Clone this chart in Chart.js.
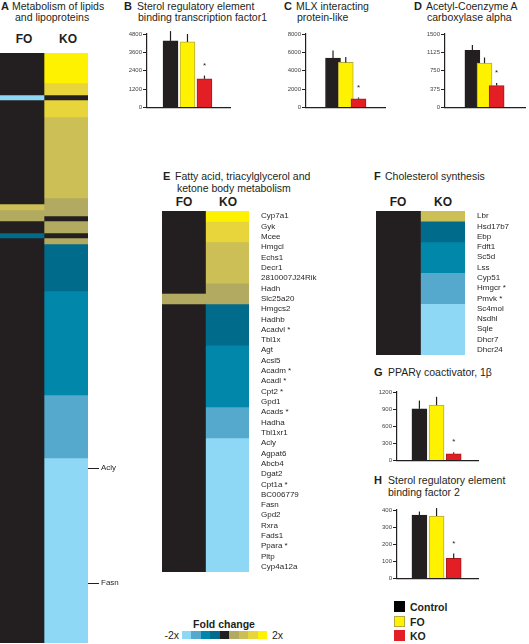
<!DOCTYPE html>
<html>
<head>
<meta charset="utf-8">
<script src="https://cdn.jsdelivr.net/npm/chart.js@4.4.0/dist/chart.umd.min.js"></script>
<style>
  body { margin: 0; width: 529px; height: 644px; position: relative; overflow: hidden; background: #fff;
         font-family: "Liberation Sans", Arial, sans-serif; color: #231f20; }
  canvas { position: absolute; }
  .t { position: absolute; font-size: 10.5px; line-height: 12px; white-space: nowrap; }
  .L { position: absolute; font-size: 11px; line-height: 12px; font-weight: bold; }
  .h { position: absolute; width: 40px; text-align: center; font-size: 12px; line-height: 14px; font-weight: bold; }
  .sq { position: absolute; left: 394px; width: 11px; height: 11px; }
  .lg { position: absolute; left: 410px; font-size: 10.5px; line-height: 12px; font-weight: bold; }
  #cbar { position: absolute; left: 182px; top: 631px; width: 85px; height: 8px; display: flex; }
  #cbar div { flex: 1; }
</style>
</head>
<body>
<!-- panel titles -->
<div class="L" style="left:1px;top:0">A</div>
<div class="t" style="left:12px;top:0">Metabolism of lipids</div>
<div class="t" style="left:15px;top:11px">and lipoproteins</div>
<div class="L" style="left:124px;top:0">B</div>
<div class="t" style="left:137px;top:0">Sterol regulatory element</div>
<div class="t" style="left:138px;top:11px">binding transcription factor1</div>
<div class="L" style="left:284px;top:0">C</div>
<div class="t" style="left:296px;top:0">MLX interacting</div>
<div class="t" style="left:297px;top:11px">protein-like</div>
<div class="L" style="left:414px;top:0">D</div>
<div class="t" style="left:426px;top:0">Acetyl-Coenzyme A</div>
<div class="t" style="left:427px;top:11px">carboxylase alpha</div>
<div class="L" style="left:163px;top:170px">E</div>
<div class="t" style="left:175px;top:170px">Fatty acid, triacylglycerol and</div>
<div class="t" style="left:177px;top:182px">ketone body metabolism</div>
<div class="L" style="left:374px;top:170px">F</div>
<div class="t" style="left:385px;top:170px">Cholesterol synthesis</div>
<div class="L" style="left:374px;top:366px">G</div>
<div class="t" style="left:388px;top:366px">PPARγ coactivator, 1β</div>
<div class="L" style="left:374px;top:474px">H</div>
<div class="t" style="left:388px;top:474px">Sterol regulatory element</div>
<div class="t" style="left:388px;top:486px">binding factor 2</div>

<div class="h" style="left:4px;top:32px">FO</div>
<div class="h" style="left:48px;top:32px">KO</div>
<div class="h" style="left:164px;top:195px">FO</div>
<div class="h" style="left:208px;top:195px">KO</div>
<div class="h" style="left:378px;top:195px">FO</div>
<div class="h" style="left:423px;top:195px">KO</div>

<canvas id="hmA" width="125" height="590" style="left:0;top:53px"></canvas>
<canvas id="hmE" width="175" height="361" style="left:162px;top:211px"></canvas>
<canvas id="hmF" width="153" height="144" style="left:376px;top:211px"></canvas>

<canvas id="barB" width="124" height="86" style="left:110px;top:26px"></canvas>
<canvas id="barC" width="116" height="86" style="left:273px;top:26px"></canvas>
<canvas id="barD" width="119" height="86" style="left:410px;top:26px"></canvas>
<canvas id="barG" width="118" height="81" style="left:364px;top:384px"></canvas>
<canvas id="barH" width="118" height="81" style="left:364px;top:502px"></canvas>

<!-- legends -->
<div class="sq" style="top:601px;background:#000"></div>
<div class="sq" style="top:616px;background:#fff200;box-sizing:border-box;border:1px solid #b5a93a"></div>
<div class="sq" style="top:630px;background:#e31e24"></div>
<div class="lg" style="top:601px">Control</div>
<div class="lg" style="top:616px">FO</div>
<div class="lg" style="top:630px">KO</div>

<div class="t" style="left:184px;top:618px;width:80px;text-align:center;font-weight:bold">Fold change</div>
<div class="t" style="left:158px;top:629px;width:21px;text-align:right">-2x</div>
<div id="cbar"></div>
<div class="t" style="left:272px;top:629px">2x</div>

<script>
// fold-change levels -4 (-2x) .. 0 .. +4 (2x)
const palette = ['#8ed8f6', '#54a9cd', '#0087a9', '#006b8b', '#231f20', '#b2aa61', '#cbbf56', '#e8d53b', '#fff200'];
const groups = ['Control', 'FO', 'KO'];

// A heatmap (row counts, top to bottom)
const aFoLevels = [0, -4, 0, 2, 1, 0, -1, 0];
const aFoRows = [42, 5, 104, 6, 11, 12, 5, 405];
const aKoLevels = [4, 3, 0, 3, 2, 1, 0, 1, 0, 1, -1, -2, -3, -4];
const aKoRows = [30, 12, 5, 17, 81, 18, 5, 12, 5, 6, 47, 104, 63, 185];
const aMarkRows = [415, 530];
const aMarkNames = ['Acly', 'Fasn'];

// E heatmap
const eGenes = ['Cyp7a1', 'Gyk', 'Mcee', 'Hmgcl', 'Echs1', 'Decr1', '2810007J24Rik', 'Hadh', 'Slc25a20',
  'Hmgcs2', 'Hadhb', 'Acadvl *', 'Tbl1x', 'Agt', 'Acsl5', 'Acadm *', 'Acadl *', 'Cpt2 *', 'Gpd1', 'Acads *',
  'Hadha', 'Tbl1xr1', 'Acly', 'Agpat6', 'Abcb4', 'Dgat2', 'Cpt1a *', 'BC006779', 'Fasn', 'Gpd2', 'Rxra',
  'Fads1', 'Ppara *', 'Pltp', 'Cyp4a12a'];
const eFoLevels = [0, 1, 0];
const eFoRows = [8, 1, 26];
const eKoLevels = [4, 3, 2, 1, -1, -2, -3, -4];
const eKoRows = [1, 2, 4, 2, 4, 6, 3, 13];

// F heatmap
const fGenes = ['Lbr', 'Hsd17b7', 'Ebp', 'Fdft1', 'Sc5d', 'Lss', 'Cyp51', 'Hmgcr *', 'Pmvk *', 'Sc4mol',
  'Nsdhl', 'Sqle', 'Dhcr7', 'Dhcr24'];
const fFoLevels = [0];
const fFoRows = [14];
const fKoLevels = [2, -1, -2, -3, -4];
const fKoRows = [1, 2, 3, 3, 5];

// bar panels: mean, upper error, significance
const bVals = [4350, 4280, 1870], bErr = [4990, 4800, 2080];
const cVals = [5380, 4900, 940], cErr = [6200, 5480, 1080];
const dVals = [1165, 905, 445], dErr = [1275, 1020, 500];
const gVals = [905, 970, 115], gErr = [1050, 1115, 145];
const hVals = [370, 365, 117], hErr = [391, 411, 146];
const sig = [false, false, true];
const bTicks = [0, 1200, 2400, 3600, 4800];
const cTicks = [0, 2000, 4000, 6000, 8000];
const dTicks = [0, 375, 750, 1125, 1500];
const gTicks = [0, 300, 600, 900, 1200];
const hTicks = [0, 100, 200, 300, 400];

const barColors = ['#231f20', '#fff200', '#e31e24'];
const barBorders = ['#231f20', '#b5a93a', '#a8181d'];

palette.forEach(c => {
  const d = document.createElement('div');
  d.style.background = c;
  document.getElementById('cbar').appendChild(d);
});

const errPlugin = {
  id: 'err',
  afterDatasetsDraw(chart) {
    const o = chart.options.plugins.err;
    const ys = chart.scales.y, ctx = chart.ctx;
    ctx.save();
    ctx.strokeStyle = '#231f20';
    ctx.fillStyle = '#231f20';
    ctx.lineWidth = 1.2;
    ctx.font = '8px "Liberation Sans"';
    ctx.textAlign = 'center';
    ctx.textBaseline = 'middle';
    chart.getDatasetMeta(0).data.forEach((bar, i) => {
      const top = ys.getPixelForValue(o.err[i]);
      ctx.beginPath();
      ctx.moveTo(bar.x, bar.y);
      ctx.lineTo(bar.x, top);
      ctx.stroke();
      if (o.sig[i]) ctx.fillText('*', bar.x, top - 10);
    });
    ctx.restore();
  }
};

function barChart(id, vals, errs, ticks, yw, xmin, xmax) {
  new Chart(document.getElementById(id), {
    type: 'bar',
    data: {
      datasets: [{
        data: vals.map((v, i) => ({ x: i + 1, y: v })),
        backgroundColor: barColors,
        borderColor: barBorders,
        borderWidth: 1,
        barThickness: 15
      }]
    },
    plugins: [errPlugin],
    options: {
      responsive: false,
      animation: false,
      layout: { padding: { top: 8, right: 4 } },
      plugins: { legend: { display: false }, tooltip: { enabled: false }, err: { err: errs, sig: sig } },
      scales: {
        x: {
          type: 'linear', min: xmin, max: xmax,
          ticks: { display: false },
          grid: { display: false },
          border: { color: '#231f20', width: 1.2 },
          afterFit: s => { s.height = 4; s.paddingLeft = s.paddingRight = 0; }
        },
        y: {
          min: 0, max: ticks[ticks.length - 1],
          afterBuildTicks: s => { s.ticks = ticks.map(v => ({ value: v })); },
          ticks: { callback: v => String(v), font: { size: 6, family: 'Liberation Sans' }, color: '#444', padding: 1 },
          grid: { drawOnChartArea: false, tickLength: 4, color: '#231f20' },
          border: { color: '#231f20', width: 1.2 },
          afterFit: s => { s.width = yw; }
        }
      }
    }
  });
}

barChart('barB', bVals, bErr, bTicks, 37, 0.43, 3.69);
barChart('barC', cVals, cErr, cTicks, 33, 0.43, 3.53);
barChart('barD', dVals, dErr, dTicks, 35, 0.39, 3.69);
barChart('barG', gVals, gErr, gTicks, 33, 0.48, 3.63);
barChart('barH', hVals, hErr, hTicks, 33, 0.48, 3.63);

function segments(levels, rows, col) {
  return levels.map((lv, i) => ({
    data: col === 0 ? [rows[i], null] : [null, rows[i]],
    backgroundColor: palette[lv + 4],
    borderWidth: 0,
    barPercentage: 1,
    categoryPercentage: 1
  }));
}

function heatmap(id, fo, foRows, ko, koRows, y2, y2w) {
  const total = foRows.reduce((a, b) => a + b, 0);
  new Chart(document.getElementById(id), {
    type: 'bar',
    data: {
      labels: ['FO', 'KO'],
      datasets: segments(fo, foRows, 0).concat(segments(ko, koRows, 1))
    },
    options: {
      responsive: false,
      animation: false,
      plugins: { legend: { display: false }, tooltip: { enabled: false } },
      scales: {
        x: { display: false, stacked: true },
        y: { display: false, stacked: true, reverse: true, min: 0, max: total },
        y2: Object.assign({
          position: 'right',
          border: { display: false },
          afterFit: s => { s.width = y2w; s.paddingTop = s.paddingBottom = 0; }
        }, y2)
      }
    }
  });
}

heatmap('hmA', aFoLevels, aFoRows, aKoLevels, aKoRows, {
  type: 'linear', min: 0, max: 590, reverse: true,
  afterBuildTicks: s => { s.ticks = aMarkRows.map(v => ({ value: v })); },
  ticks: { callback: (v, i) => aMarkNames[i], font: { size: 8, family: 'Liberation Sans' }, color: '#231f20', padding: 2 },
  grid: { drawOnChartArea: false, tickLength: 11, color: '#231f20' }
}, 37);

const geneAxis = labels => ({
  type: 'category', labels: labels, offset: true,
  ticks: { autoSkip: false, font: { size: 8, family: 'Liberation Sans' }, color: '#231f20', padding: 12 },
  grid: { display: false, drawTicks: false }
});

heatmap('hmE', eFoLevels, eFoRows, eKoLevels, eKoRows, geneAxis(eGenes), 88);
heatmap('hmF', fFoLevels, fFoRows, fKoLevels, fKoRows, geneAxis(fGenes), 64);
</script>
</body>
</html>
